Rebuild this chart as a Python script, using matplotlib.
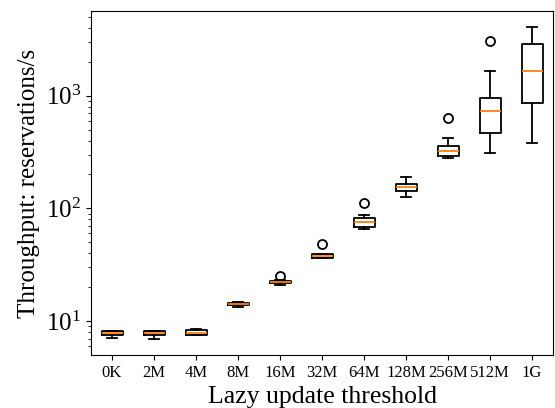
import matplotlib
matplotlib.use("Agg")
import matplotlib.pyplot as plt

plt.rcParams['font.family'] = ['Liberation Serif', 'DejaVu Serif']
plt.rcParams['mathtext.fontset'] = 'stix'

categories = ["0K", "2M", "4M", "8M", "16M", "32M", "64M", "128M", "256M", "512M", "1G"]
whis_lo = [7.03, 6.89, 7.52, 13.3, 20.9, 36.2, 65.6, 126, 281, 308, 378]
q1 = [7.47, 7.47, 7.57, 13.8, 21.7, 36.6, 68.4, 143.5, 291, 464, 867]
medians = [7.79, 7.79, 7.83, 14.1, 22.3, 38.1, 75.7, 154, 324, 726, 1640]
q3 = [8.16, 8.16, 8.38, 14.5, 22.9, 39.2, 81.6, 166, 361, 946, 2870]
whis_hi = [8.21, 8.2, 8.45, 14.7, 23.2, 39.6, 87.3, 190, 419, 1640, 4100]
fliers = [[], [], [], [], [25.0], [48.3], [112], [], [635], [3050], []]

stats = []
for i, name in enumerate(categories):
    stats.append(dict(label=name, med=medians[i], q1=q1[i], q3=q3[i],
                      whislo=whis_lo[i], whishi=whis_hi[i], fliers=fliers[i]))

fig = plt.figure(figsize=(5.55, 4.08), dpi=100)
ax = fig.add_subplot(111)
fig.subplots_adjust(left=0.164, right=0.9964, bottom=0.13, top=0.973)

lw = 1.3
ax.bxp(stats, showfliers=True,
       boxprops=dict(linewidth=lw, color='black'),
       whiskerprops=dict(linewidth=lw, color='black'),
       capprops=dict(linewidth=lw, color='black'),
       medianprops=dict(linewidth=lw, color='#ff7f0e'),
       flierprops=dict(marker='o', markerfacecolor='none', markeredgecolor='black',
                       markersize=6.5, markeredgewidth=1.3))
ax.set_yscale('log')
ax.set_xticks(range(1, len(categories) + 1))
ax.set_xticklabels(categories, fontsize=12)
ax.tick_params(axis='y', labelsize=18)
ax.set_xlabel("Lazy update threshold", fontsize=18.5)
ax.set_ylabel("Throughput: reservations/s", fontsize=18)

fig.savefig("out.png", dpi=100)
